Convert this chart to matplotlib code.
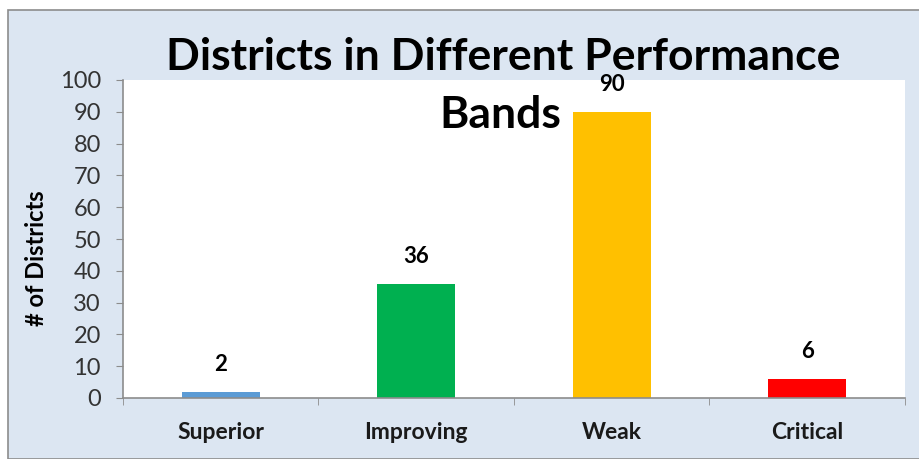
import matplotlib.pyplot as plt
from matplotlib.patches import Rectangle

categories = ["Superior", "Improving", "Weak", "Critical"]
districts = [2, 36, 90, 6]
bar_colors = ["#5b9bd5", "#00b050", "#ffc000", "#ff0000"]
y_ticks = [0, 10, 20, 30, 40, 50, 60, 70, 80, 90, 100]

plt.rcParams['font.family'] = ['Lato', 'DejaVu Sans']

fig = plt.figure(figsize=(9.2, 4.59), dpi=100)
fig.patch.set_facecolor("white")

# chart frame
fig.patches.append(Rectangle((8 / 920, 0), 1 - 8 / 920, 1 - 10 / 459,
                             transform=fig.transFigure, facecolor="#dce6f2",
                             edgecolor="#8c8c8c", linewidth=1.2, zorder=-10))

ax = fig.add_axes([123 / 920, 61 / 459, 782 / 920, 318 / 459])
ax.set_facecolor("white")

x = list(range(len(categories)))
ax.bar(x, districts, width=0.4, color=bar_colors, zorder=2)

for xi, v in zip(x, districts):
    ax.annotate(str(v), (xi, v), xytext=(0, 19.5), textcoords="offset points",
                ha="center", va="center", fontsize=16, fontweight="bold",
                color="black")

ax.set_xlim(-0.5, 3.5)
ax.set_ylim(0, 100)
ax.set_yticks(y_ticks)
ax.set_yticklabels([str(t) for t in y_ticks], fontsize=17, color="#333333")
ax.set_xticks(x)
ax.set_xticklabels(categories, fontsize=16.5, fontweight="bold", color="#1a1a1a")
ax.set_xticks([-0.5, 0.5, 1.5, 2.5, 3.5], minor=True)
ax.tick_params(axis="x", which="major", length=0, pad=17)
ax.tick_params(axis="x", which="minor", length=5, color="#8c8c8c", direction="out")
ax.tick_params(axis="y", length=5, color="#8c8c8c", direction="out", pad=11)

for s in ["top", "right"]:
    ax.spines[s].set_visible(False)
for s in ["left", "bottom"]:
    ax.spines[s].set_color("#8c8c8c")
    ax.spines[s].set_linewidth(1.2)

fig.text(37 / 920, 1 - 258 / 459, "# of Districts", rotation=90, ha="center",
         va="center", fontsize=17, fontweight="bold", color="black")

fig.text(503 / 920, 1 - 57 / 459, "Districts in Different Performance",
         ha="center", va="center", fontsize=32, fontweight="bold", color="black")
fig.text(500 / 920, 1 - 115 / 459, "Bands",
         ha="center", va="center", fontsize=32, fontweight="bold", color="black")

fig.savefig("out.png", dpi=100)
